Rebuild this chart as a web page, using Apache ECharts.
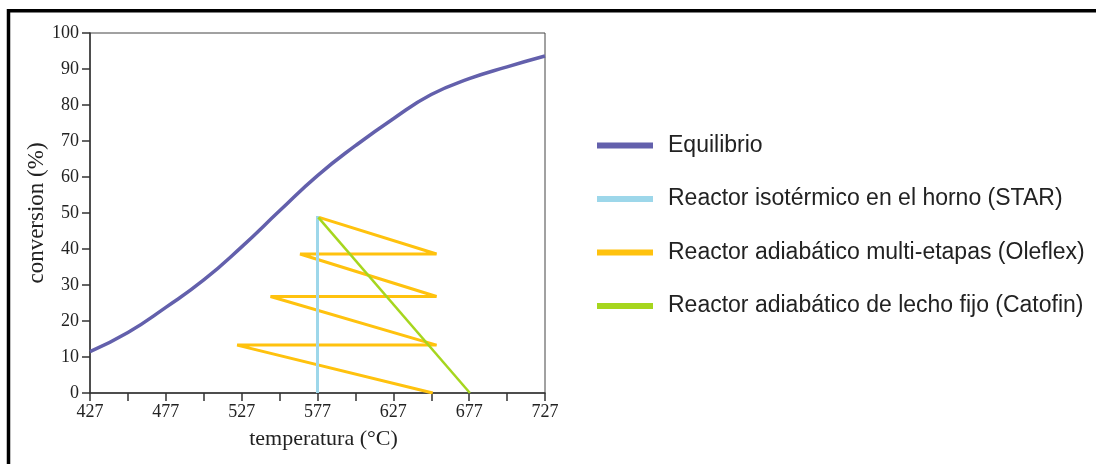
<!DOCTYPE html>
<html>
<head>
<meta charset="utf-8">
<script src="https://cdn.jsdelivr.net/npm/echarts@6/dist/echarts.min.js"></script>
<style>
html,body{margin:0;padding:0;background:#fff;}
#c{width:1096px;height:464px;}
</style>
</head>
<body>
<div id="c"></div>
<script>
// ---- data (temperature °C, conversion %) ----
const seriesNames = [
  'Equilibrio',
  'Reactor isotérmico en el horno (STAR)',
  'Reactor adiabático multi-etapas (Oleflex)',
  'Reactor adiabático de lecho fijo (Catofin)'
];
const equilibrio = [
  [427, 11.5], [452, 16.8], [477, 23.8], [502, 31.4], [527, 40.6], [552, 50.6],
  [577, 60.4], [602, 68.7], [627, 76.2], [652, 82.9], [677, 87.3], [702, 90.6], [727, 93.6]
];
const star = [[577, 0], [577, 49.2]];
const oleflex = [
  [653, 0], [524, 13.3], [655.5, 13.3], [546, 26.8], [655.5, 26.8],
  [565.5, 38.6], [655.5, 38.6], [578, 48.8]
];
const catofin = [[677.5, 0], [577.5, 48.8]];
const xTickLabels = ['427', '477', '527', '577', '627', '677', '727'];
const yTickLabels = ['0', '10', '20', '30', '40', '50', '60', '70', '80', '90', '100'];

const colors = ['#6360AC', '#9DD7EA', '#FFC20E', '#A6D61E'];

const chart = echarts.init(document.getElementById('c'), null, {renderer: 'canvas'});
const serif = '"Liberation Serif", "DejaVu Serif", serif';
const sans = '"Liberation Sans", Arial, sans-serif';

chart.setOption({
  backgroundColor: '#fff',
  animation: false,
  graphic: [{
    type: 'rect',
    shape: {x: 8.5, y: 10.7, width: 2000, height: 2000},
    style: {fill: 'none', stroke: '#000', lineWidth: 3.5},
    silent: true
  }],
  grid: {
    left: 90, right: 551, top: 33, bottom: 71,
    show: true, borderColor: '#444', borderWidth: 1, backgroundColor: 'transparent'
  },
  legend: {
    orient: 'vertical',
    left: 592, top: 129,
    itemWidth: 56, itemHeight: 6, itemGap: 30.5,
    icon: 'rect',
    data: seriesNames,
    textStyle: {fontFamily: sans, fontSize: 23, color: '#222', lineHeight: 23, padding: [0, 0, 0, 10]}
  },
  xAxis: {
    type: 'value', min: 427, max: 727, interval: 25,
    name: 'temperatura (°C)', nameLocation: 'middle', nameGap: 35,
    nameTextStyle: {fontFamily: serif, fontSize: 22, color: '#222', padding: [0, 0, 0, 12]},
    axisLine: {lineStyle: {color: '#333', width: 1.5}},
    axisTick: {length: 8, lineStyle: {color: '#333', width: 1.5}},
    axisLabel: {
      fontFamily: serif, fontSize: 18, color: '#222', margin: 10,
      formatter: v => { const s = String(Math.round(v)); return xTickLabels.includes(s) ? s : ''; }
    },
    splitLine: {show: false}
  },
  yAxis: {
    type: 'value', min: 0, max: 100, interval: 10,
    name: 'conversion (%)', nameLocation: 'middle', nameGap: 42, nameRotate: 90,
    nameTextStyle: {fontFamily: serif, fontSize: 23, color: '#222'},
    axisLine: {show: true, lineStyle: {color: '#333', width: 1.5}},
    axisTick: {show: true, length: 8, lineStyle: {color: '#333', width: 1.5}},
    axisLabel: {
      fontFamily: serif, fontSize: 18, color: '#222', margin: 11,
      formatter: v => { const s = String(Math.round(v)); return yTickLabels.includes(s) ? s : ''; }
    },
    splitLine: {show: false}
  },
  series: [
    {name: seriesNames[0], type: 'line', data: equilibrio, smooth: 0.5,
     showSymbol: false, symbol: 'none',
     color: colors[0], lineStyle: {width: 3.5, color: colors[0]}, z: 2},
    {name: seriesNames[2], type: 'line', data: oleflex, showSymbol: false, symbol: 'none',
     color: colors[2], lineStyle: {width: 3, color: colors[2]}, z: 3},
    {name: seriesNames[1], type: 'line', data: star, showSymbol: false, symbol: 'none',
     color: colors[1], lineStyle: {width: 3, color: colors[1]}, z: 4},
    {name: seriesNames[3], type: 'line', data: catofin, showSymbol: false, symbol: 'none',
     color: colors[3], lineStyle: {width: 2.5, color: colors[3]}, z: 5}
  ]
});
</script>
</body>
</html>
